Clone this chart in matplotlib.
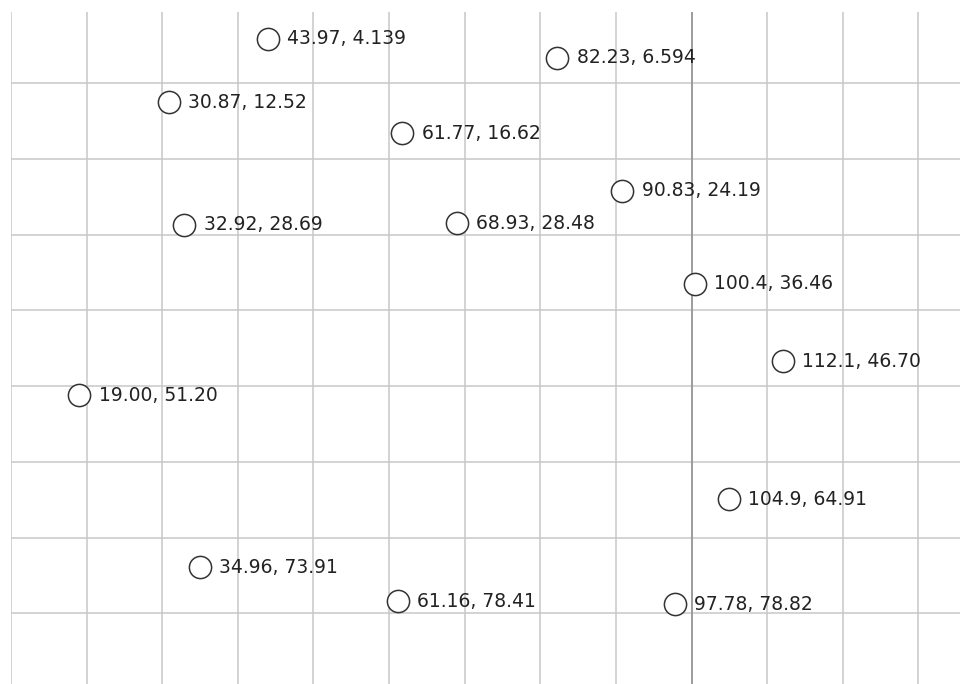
import matplotlib
matplotlib.use('Agg')
import matplotlib.pyplot as plt

# point coordinates (y axis points downwards)
xs = [43.97, 82.23, 30.87, 61.77, 90.83, 32.92, 68.93, 100.4, 112.1, 19.00, 104.9, 34.96, 61.16, 97.78]
ys = [4.139, 6.594, 12.52, 16.62, 24.19, 28.69, 28.48, 36.46, 46.70, 51.20, 64.91, 73.91, 78.41, 78.82]
x_grid = list(range(10, 140, 10))
y_grid = list(range(10, 90, 10))

fig = plt.figure(figsize=(9.6, 6.84), dpi=100)
ax = fig.add_axes([11 / 960, 0, 949 / 960, 672 / 684])

ax.set_xlim(10, 135.5)
ax.set_ylim(89.34, 0.58)

ax.set_xticks(x_grid)
ax.set_yticks(y_grid)
ax.grid(True, color='#c8c8c8', linewidth=1.1)
ax.tick_params(length=0, labelbottom=False, labelleft=False)
for s in ax.spines.values():
    s.set_visible(False)
ax.set_axisbelow(True)

# darker line at x = 100
ax.axvline(100, color='#999999', linewidth=1.3, zorder=1)

ax.plot(xs, ys, 'o', markersize=16, markerfacecolor='white',
        markeredgecolor='#333333', markeredgewidth=1.1, zorder=3)

for x, y in zip(xs, ys):
    ax.annotate(f"{x:#.4g}, {y:#.4g}", (x, y), xytext=(14, 0),
                textcoords='offset points', ha='left', va='center',
                fontsize=13.5, color='#222222', zorder=4)

fig.savefig('out.png', dpi=100)
